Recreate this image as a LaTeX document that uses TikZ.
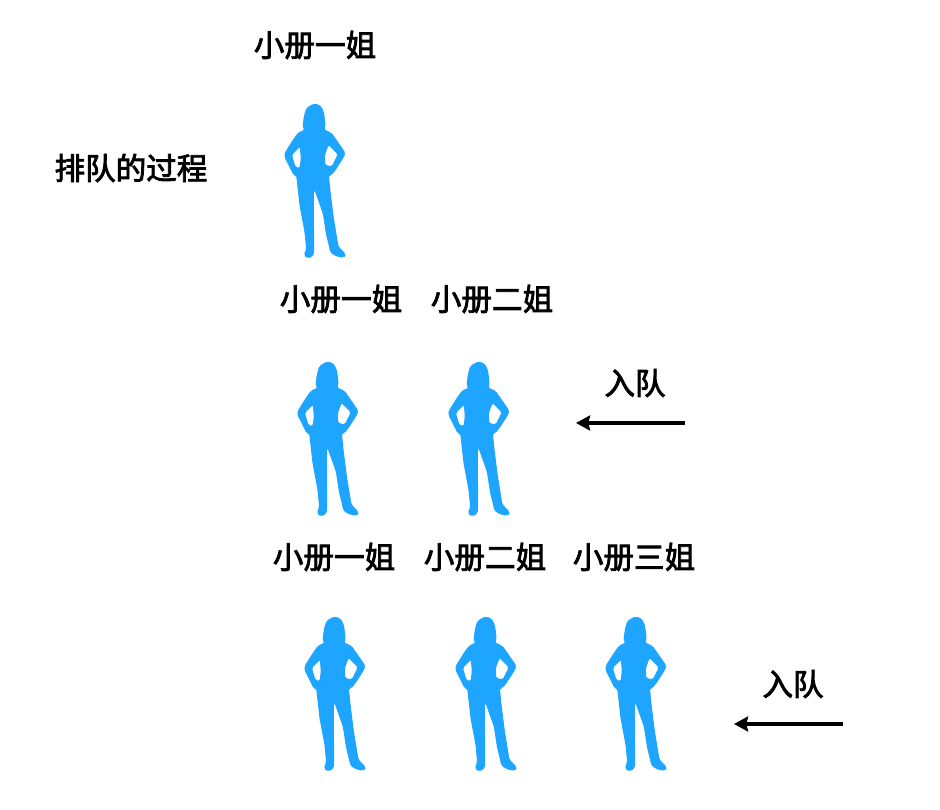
\documentclass[tikz,border=0pt]{standalone}
\usepackage{fontspec}
\newfontfamily\cjk[RawFeature={embolden=2.6}]{Noto Sans CJK SC}
\definecolor{ladyblue}{HTML}{1EA5FF}
\usetikzlibrary{arrows.meta}
\tikzset{
  namelabel/.style={font=\cjk\fontsize{17.4}{20}\selectfont, text=black, inner sep=0pt},
  queuearrow/.style={draw=black, line width=1.9pt, -{Stealth[length=8pt,width=8.5pt,inset=1pt]}},
  lady/.pic={
    \filldraw[fill=ladyblue, draw=ladyblue, line width=0.6pt, even odd rule, rounded corners=1pt, x=0.00667cm, y=-0.00667cm]
      (132,27) -- (150,32) -- (160,50) -- (164,78) -- (165,96) -- (160,104) -- (184,115) -- (205,145) -- (225,174)
      -- (219,188) -- (195,225) -- (183,240) -- (175,240) -- (180,290) -- (190,370) -- (204,455) -- (226,478)
      -- (221,487) -- (200,483) -- (182,472) -- (180,460) -- (170,420) -- (160,355) -- (135,285) -- (130,283)
      -- (130,350) -- (131,450) -- (130,480) -- (115,489) -- (103,481) -- (110,462) -- (105,410) -- (90,330)
      -- (80,240) -- (72,240) -- (45,186) -- (45,175) -- (70,135) -- (85,114) -- (106,105) -- (99,98) -- (103,65)
      -- (110,40) -- cycle
      (91,153) -- (64,179) -- (75,217) -- (90,221) -- (94,190) -- cycle
      (175,148) -- (205,178) -- (186,216) -- (164,211) -- (163,180) -- cycle;
  }
}
\begin{document}
\begin{tikzpicture}[x=0.02cm, y=-0.02cm]
\useasboundingbox (0,0) rectangle (940,810);
\node[namelabel] (title) at (131,168) {排队的过程};
\node[namelabel] (nameA) at (315,45) {小册一姐};
\pic at (270,95) {lady};
\node[namelabel] (nameB) at (341,299) {小册一姐};
\node[namelabel] (nameC) at (492,299) {小册二姐};
\pic at (283,353) {lady};
\pic at (434,353) {lady};
\node[namelabel] (enterA) at (635,383) {入队};
\coordinate (enterAstart) at (685,423);
\coordinate (enterAend) at (576,423);
\draw[queuearrow] (enterAstart) -- (enterAend);
\node[namelabel] (nameD) at (334,557) {小册一姐};
\node[namelabel] (nameE) at (485,557) {小册二姐};
\node[namelabel] (nameF) at (634,557) {小册三姐};
\pic at (290,608) {lady};
\pic at (441,608) {lady};
\pic at (591,608) {lady};
\node[namelabel] (enterB) at (793,684) {入队};
\coordinate (enterBstart) at (843,724);
\coordinate (enterBend) at (734,724);
\draw[queuearrow] (enterBstart) -- (enterBend);
\end{tikzpicture}
\end{document}
